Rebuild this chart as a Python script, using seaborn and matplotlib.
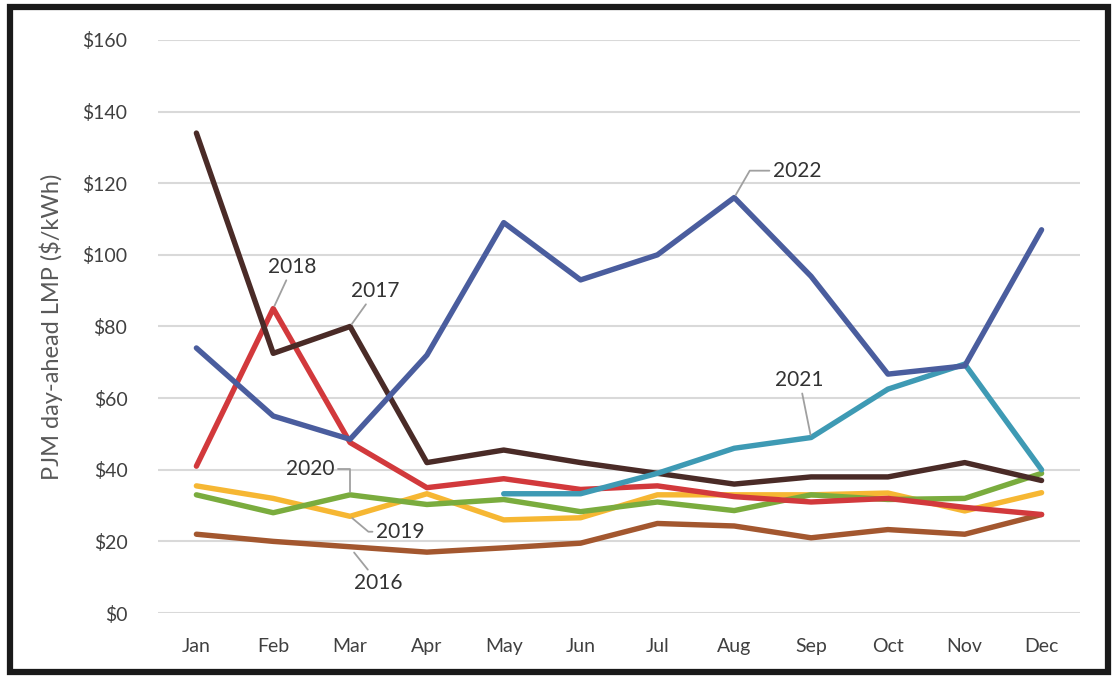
import numpy as np
import pandas as pd
import matplotlib
matplotlib.use("Agg")
import matplotlib.pyplot as plt
import seaborn as sns
from matplotlib.patches import Rectangle

months = ["Jan", "Feb", "Mar", "Apr", "May", "Jun", "Jul", "Aug", "Sep", "Oct", "Nov", "Dec"]
years = ["2016", "2019", "2020", "2018", "2017", "2021", "2022"]

y2016 = [22, 20, 18.5, 17, 18.2, 19.5, 25, 24.3, 21, 23.3, 22, 27.5]
y2017 = [134, 72.5, 80, 42, 45.5, 42, 39, 36, 38, 38, 42, 37]
y2018 = [41, 85, 47.6, 35, 37.5, 34.5, 35.5, 32.5, 31, 32, 29.5, 27.5]
y2019 = [35.5, 32, 27, 33.3, 26, 26.6, 33, 33, 33, 33.5, 28.5, 33.6]
y2020 = [33, 28, 33, 30.3, 31.7, 28.3, 31, 28.6, 33, 31.7, 32, 39]
y2021 = [np.nan, np.nan, np.nan, np.nan, 33.3, 33.3, 39, 46, 49, 62.5, 69.5, 40]
y2022 = [74, 55, 48.5, 72, 109, 93, 100, 116, 94, 66.7, 69, 107]

series = {"2016": y2016, "2017": y2017, "2018": y2018, "2019": y2019,
          "2020": y2020, "2021": y2021, "2022": y2022}
colors = {"2016": "#A3572F", "2017": "#4A2B27", "2018": "#D2393C", "2019": "#F6B733",
          "2020": "#7AAC3E", "2021": "#3E9AB4", "2022": "#4A5D9E"}

yticks = [0, 20, 40, 60, 80, 100, 120, 140, 160]
ytick_labels = ["$0", "$20", "$40", "$60", "$80", "$100", "$120", "$140", "$160"]

rows = []
for yr in years:
    for i, m in enumerate(months):
        rows.append({"year": yr, "mi": i, "value": series[yr][i]})
df = pd.DataFrame(rows)

sns.set_theme(style="white")
plt.rcParams["font.family"] = ["Lato", "DejaVu Sans"]

fig = plt.figure(figsize=(11.18, 6.77), dpi=100)
ax = fig.add_axes([0.1413, 0.0945, 0.8247, 0.8465])

sns.lineplot(data=df, x="mi", y="value", hue="year", hue_order=years,
             palette=colors, linewidth=3.9, legend=False, ax=ax, sort=False)

ax.set_xlim(-0.5, 11.5)
ax.set_ylim(0, 160)
ax.set_yticks(yticks)
ax.set_yticklabels(ytick_labels)
ax.set_xticks(range(12))
ax.set_xticklabels(months)
ax.tick_params(axis="both", length=0, labelsize=14, colors="#404040")
ax.tick_params(axis="x", pad=18)
ax.tick_params(axis="y", pad=22)
ax.grid(axis="y", color="#D9D9D9", linewidth=1.5)
ax.set_axisbelow(True)
for s in ax.spines.values():
    s.set_visible(False)
ax.axhline(0, color="#BFBFBF", linewidth=1.8, zorder=0.5)
ax.set_xlabel("")
ax.set_ylabel("PJM day-ahead LMP ($/kWh)", fontsize=17, color="#595959", labelpad=14)

lead = dict(arrowstyle="-", color="#A0A0A0", lw=1.3, shrinkA=0, shrinkB=2)
tx = dict(fontsize=15, color="#333333")
ax.annotate("2022", xy=(7, 116), xytext=(7.5, 123.5), ha="left", va="center",
            arrowprops=dict(lead, connectionstyle="angle,angleA=0,angleB=60,rad=0"), **tx)
ax.annotate("2018", xy=(1, 85), xytext=(1.25, 96.6), ha="center", va="center",
            arrowprops=lead, **tx)
ax.annotate("2017", xy=(2, 80), xytext=(2.33, 89.9), ha="center", va="center",
            arrowprops=lead, **tx)
ax.annotate("2021", xy=(8, 49), xytext=(7.85, 65), ha="center", va="center",
            arrowprops=lead, **tx)
ax.annotate("2020", xy=(2, 33), xytext=(1.48, 40.3), ha="center", va="center",
            arrowprops=dict(lead, connectionstyle="angle,angleA=0,angleB=90,rad=0"), **tx)
ax.annotate("2019", xy=(2, 27), xytext=(2.65, 22.7), ha="center", va="center",
            arrowprops=dict(lead, connectionstyle="angle,angleA=0,angleB=-40,rad=0"), **tx)
ax.annotate("2016", xy=(2.03, 17.5), xytext=(2.37, 8.4), ha="center", va="center",
            arrowprops=lead, **tx)

fig.patches.append(Rectangle((0.0085, 0.008), 0.983, 0.982, transform=fig.transFigure,
                             fill=False, edgecolor="#1A1A1A", linewidth=4.5))

fig.savefig("out.png", dpi=100)
